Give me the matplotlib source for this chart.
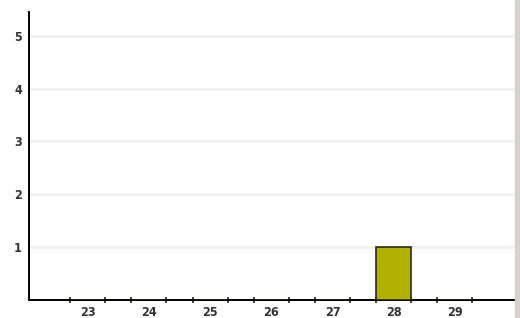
import matplotlib
matplotlib.use("Agg")
import matplotlib.pyplot as plt
from matplotlib.patches import Rectangle

# chart data
categories = ["23", "24", "25", "26", "27", "28", "29"]
values = [0, 0, 0, 0, 0, 1, 0]
y_ticks = [1, 2, 3, 4, 5]

bar_width = 0.572
positions = list(range(len(categories)))

fig = plt.figure(figsize=(5.2, 3.18), dpi=100)
ax = fig.add_axes([29 / 520, 18 / 318, (515 - 29) / 520, (300 - 12) / 318])

# light grid lines behind the bars
ax.set_axisbelow(True)
ax.yaxis.grid(True, color="#efefef", linewidth=1.8)

ax.bar(positions, values, width=bar_width, color="#b0b000",
       edgecolor="#2a2a10", linewidth=1.2, zorder=3)

ax.set_xlim(-0.956, 6.98)
ax.set_ylim(0, 5.45)

# spines
for side in ("top", "right"):
    ax.spines[side].set_visible(False)
ax.spines["left"].set_linewidth(1.4)
ax.spines["bottom"].set_linewidth(1.4)

# x labels in the middle, tick marks at the bar edges
ax.set_xticks(positions)
ax.set_xticklabels(categories)
edges = [p - bar_width / 2 for p in positions] + [p + bar_width / 2 for p in positions]
ax.set_xticks(edges, minor=True)
ax.tick_params(axis="x", which="major", length=0, pad=4, labelsize=9,
               labelcolor="#333333")
ax.tick_params(axis="x", which="minor", direction="inout", length=5, width=1.2,
               color="#222222")

ax.set_yticks(y_ticks)
ax.tick_params(axis="y", length=0, pad=5, labelsize=9, labelcolor="#333333")
for lab in ax.get_xticklabels() + ax.get_yticklabels():
    lab.set_fontweight("bold")
    lab.set_fontstretch("condensed")

# grey strip at the right edge
fig.patches.append(Rectangle((515 / 520, 0), 5 / 520, 1, transform=fig.transFigure,
                             color="#d8d0d0", zorder=0))

fig.savefig("out.png", dpi=100)
